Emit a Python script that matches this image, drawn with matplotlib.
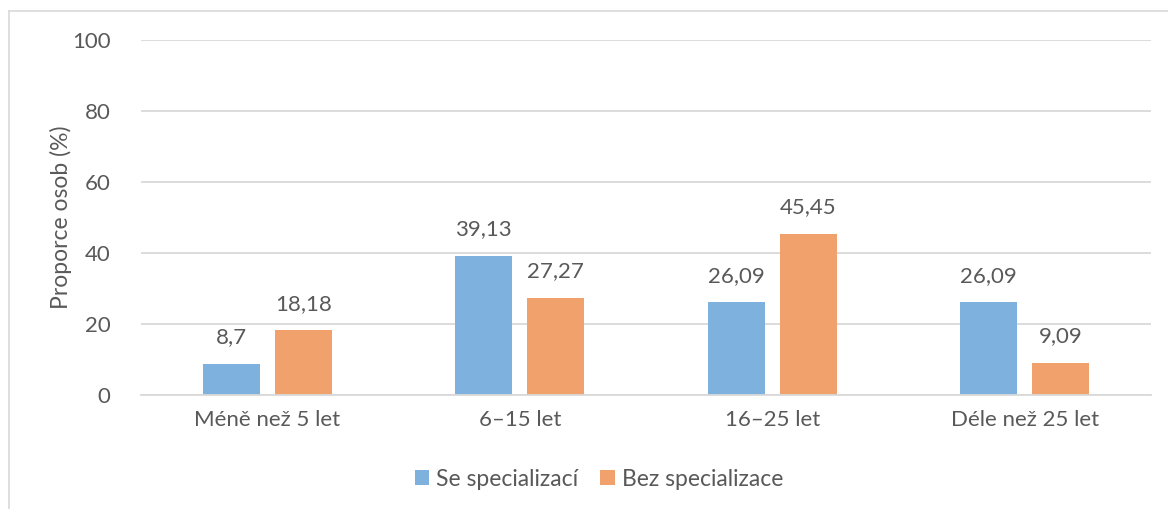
import matplotlib
matplotlib.use("Agg")
import matplotlib.pyplot as plt
import numpy as np
from matplotlib.lines import Line2D

categories = ["Méně než 5 let", "6–15 let", "16–25 let", "Déle než 25 let"]
series_names = ["Se specializací", "Bez specializace"]
se_specializaci = [8.7, 39.13, 26.09, 26.09]
bez_specializace = [18.18, 27.27, 45.45, 9.09]
y_ticks = [0, 20, 40, 60, 80, 100]

blue = "#7FB1DE"
orange = "#F1A16B"
text_color = "#595959"
grid_color = "#D9D9D9"

plt.rcParams["font.family"] = ["Lato", "DejaVu Sans"]

fig = plt.figure(figsize=(11.68, 5.09), dpi=100)
ax = fig.add_axes([141 / 1168, 1 - 395 / 509, (1151 - 141) / 1168, (395 - 40) / 509])

x = np.arange(len(categories))
w = 0.226
off = 0.143
bars1 = ax.bar(x - off, se_specializaci, w, color=blue, label=series_names[0], zorder=3)
bars2 = ax.bar(x + off, bez_specializace, w, color=orange, label=series_names[1], zorder=3)

def fmt(v):
    return f"{v:g}".replace(".", ",")

for bars, vals in ((bars1, se_specializaci), (bars2, bez_specializace)):
    for b, v in zip(bars, vals):
        ax.annotate(fmt(v), (b.get_x() + b.get_width() / 2, v), xytext=(0, 12),
                    textcoords="offset points", ha="center", va="bottom",
                    fontsize=16, color=text_color)

ax.set_xlim(-0.5, len(categories) - 0.5)
ax.set_ylim(0, 100)
ax.set_yticks(y_ticks)
ax.set_yticklabels([str(t) for t in y_ticks])
ax.set_xticks(x)
ax.set_xticklabels(categories)
ax.tick_params(axis="both", length=0, labelsize=16, colors=text_color)
ax.tick_params(axis="y", pad=22)
ax.tick_params(axis="x", pad=11)
ax.grid(axis="y", color=grid_color, linewidth=1.3, zorder=0)
for s in ("top", "right", "left"):
    ax.spines[s].set_visible(False)
ax.spines["bottom"].set_color(grid_color)
ax.spines["bottom"].set_linewidth(1.3)
ax.spines["bottom"].set_zorder(4)

ax.set_ylabel("Proporce osob (%)", fontsize=16.5, color=text_color, labelpad=0)

leg = fig.legend(handles=[bars1, bars2], labels=series_names, loc="center",
                 bbox_to_anchor=(599 / 1168, 1 - 479 / 509), ncol=2, frameon=False,
                 fontsize=16.5, handlelength=0.65, handleheight=0.65,
                 handletextpad=0.3, columnspacing=0.95)
for t in leg.get_texts():
    t.set_color(text_color)

# chart-area outline (left and top edges)
fig.add_artist(Line2D([8.5 / 1168, 8.5 / 1168], [0, 1 - 10.5 / 509], color=grid_color,
                      linewidth=1.2, transform=fig.transFigure))
fig.add_artist(Line2D([8.5 / 1168, 1], [1 - 10.5 / 509, 1 - 10.5 / 509], color=grid_color,
                      linewidth=1.2, transform=fig.transFigure))

fig.savefig("out.png", dpi=100, facecolor="white")
